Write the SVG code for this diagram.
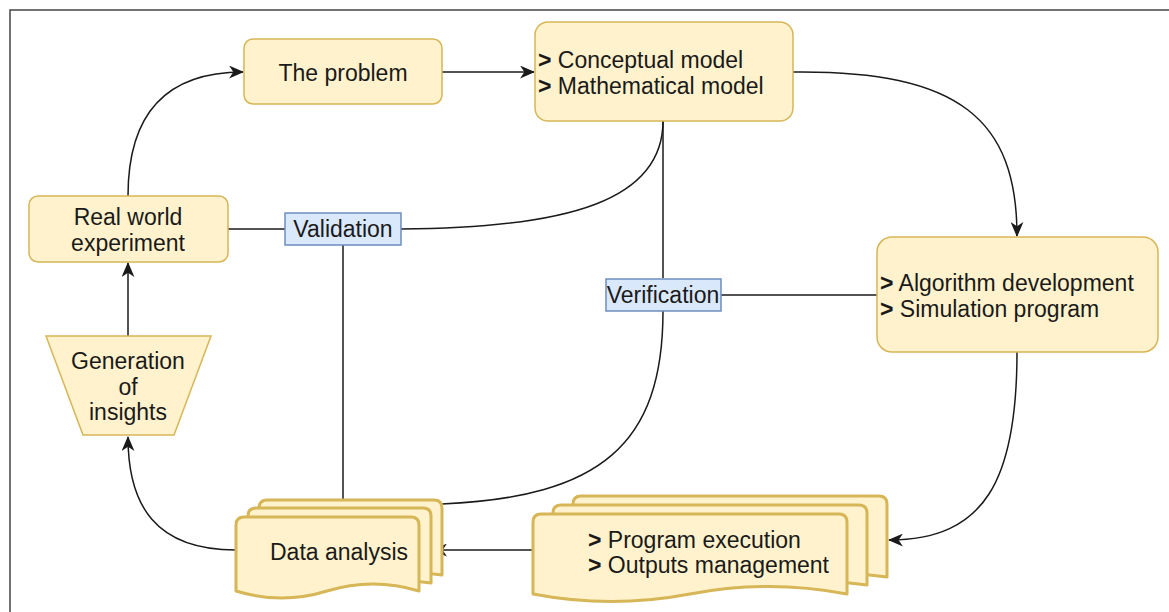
<svg xmlns="http://www.w3.org/2000/svg" width="1169" height="612" viewBox="0 0 1169 612">
  <style>
    .box { fill: #fff2cc; stroke: #d6b656; stroke-width: 1.5; }
    .doc { fill: #fff2cc; stroke: #d6b656; stroke-width: 3; stroke-linejoin: round; }
    .tag { fill: #dae8fc; stroke: #6c8ebf; stroke-width: 1.5; }
    .edge { fill: none; stroke: #1a1a1a; stroke-width: 1.5; }
    .arrow { marker-end: url(#head); }
    text { font-family: "Liberation Sans", Arial, sans-serif; font-size: 23px; fill: #1a1a1a; }
    .c { text-anchor: middle; }
    .b { font-weight: bold; }
  </style>
  <defs>
    <marker id="head" markerUnits="userSpaceOnUse" viewBox="0 0 14 12" markerWidth="15" markerHeight="13" refX="13" refY="6" orient="auto">
      <path d="M0,0 L14,6 L0,12 L4,6 z" fill="#1a1a1a"/>
    </marker>
  </defs>

  <rect width="1169" height="612" fill="#ffffff"/>
  <!-- page frame -->
  <path d="M10,612 V10 H1169" fill="none" stroke="#444444" stroke-width="1.5"/>

  <g id="connectors">
    <path class="edge arrow" d="M128,196 C128,115 165,72 243,72"/>
    <path class="edge arrow" d="M442,72 H534"/>
    <path class="edge arrow" d="M793,72 C960,70 1017,120 1017,236"/>
    <path class="edge arrow" d="M1017,352 C1017,480 985,540 889,540"/>
    <path class="edge arrow" d="M533,550 H433"/>
    <path class="edge arrow" d="M236,550 C155,550 128,505 128,437"/>
    <path class="edge arrow" d="M128,336 V263"/>
    <path class="edge" d="M228,229 H285"/>
    <path class="edge" d="M401,229 C570,228 663,200 663,121"/>
    <path class="edge" d="M343,245 V500"/>
    <path class="edge" d="M663,121 V278"/>
    <path class="edge" d="M721,295 H877"/>
    <path class="edge" d="M663,311 C663,445 600,497 442,504"/>
  </g>

  <g id="problem">
    <rect class="box" x="244" y="39" width="198" height="65" rx="9"/>
    <text class="c" x="343" y="81">The problem</text>
  </g>

  <g id="models">
    <rect class="box" x="535" y="22" width="258" height="99" rx="13"/>
    <text x="538" y="68"><tspan class="b">&gt;</tspan> Conceptual model</text>
    <text x="538" y="94"><tspan class="b">&gt;</tspan> Mathematical model</text>
  </g>

  <g id="algorithm">
    <rect class="box" x="877" y="237" width="281" height="115" rx="15"/>
    <text x="880" y="291"><tspan class="b">&gt;</tspan> Algorithm development</text>
    <text x="880" y="317"><tspan class="b">&gt;</tspan> Simulation program</text>
  </g>

  <g id="experiment">
    <rect class="box" x="29" y="196" width="199" height="66" rx="9"/>
    <text class="c" x="128" y="225">Real world</text>
    <text class="c" x="128" y="251">experiment</text>
  </g>

  <g id="insights">
    <path class="box" d="M46,336 H211 L174,435 H83 Z" stroke-width="1.3"/>
    <text class="c" x="128" y="369">Generation</text>
    <text class="c" x="128" y="395">of</text>
    <text class="c" x="128" y="420">insights</text>
  </g>

  <g id="validation">
    <rect class="tag" x="285" y="213" width="116" height="32"/>
    <text class="c" x="343" y="237">Validation</text>
  </g>

  <g id="verification">
    <rect class="tag" x="606" y="279" width="115" height="32"/>
    <text class="c" x="663" y="303">Verification</text>
  </g>

  <g id="data-analysis">
    <path class="doc" d="M259,508 Q259,500 267,500 H434 Q442,500 442,508 V575 Q396,568 350,575 Q305,582 259,575 Z"/>
    <path class="doc" d="M248,516 Q248,508 256,508 H423 Q431,508 431,516 V583 Q385,576 339,583 Q294,590 248,583 Z"/>
    <path class="doc" d="M236,525 Q236,517 244,517 H411 Q419,517 419,525 V591 Q373,577 327,591 Q282,605 236,591 Z"/>
    <text x="270" y="560">Data analysis</text>
  </g>

  <g id="execution">
    <path class="doc" d="M573,504 Q573,496 581,496 H879 Q887,496 887,504 V577 Q808,567 730,577 Q651,587 573,577 Z"/>
    <path class="doc" d="M553,513 Q553,505 561,505 H859 Q867,505 867,513 V585 Q788,575 710,585 Q631,595 553,585 Z"/>
    <path class="doc" d="M533,522 Q533,514 541,514 H839 Q847,514 847,522 V594 Q768,579 690,594 Q611,609 533,594 Z"/>
    <text x="588" y="548"><tspan class="b">&gt;</tspan> Program execution</text>
    <text x="588" y="573"><tspan class="b">&gt;</tspan> Outputs management</text>
  </g>
</svg>
